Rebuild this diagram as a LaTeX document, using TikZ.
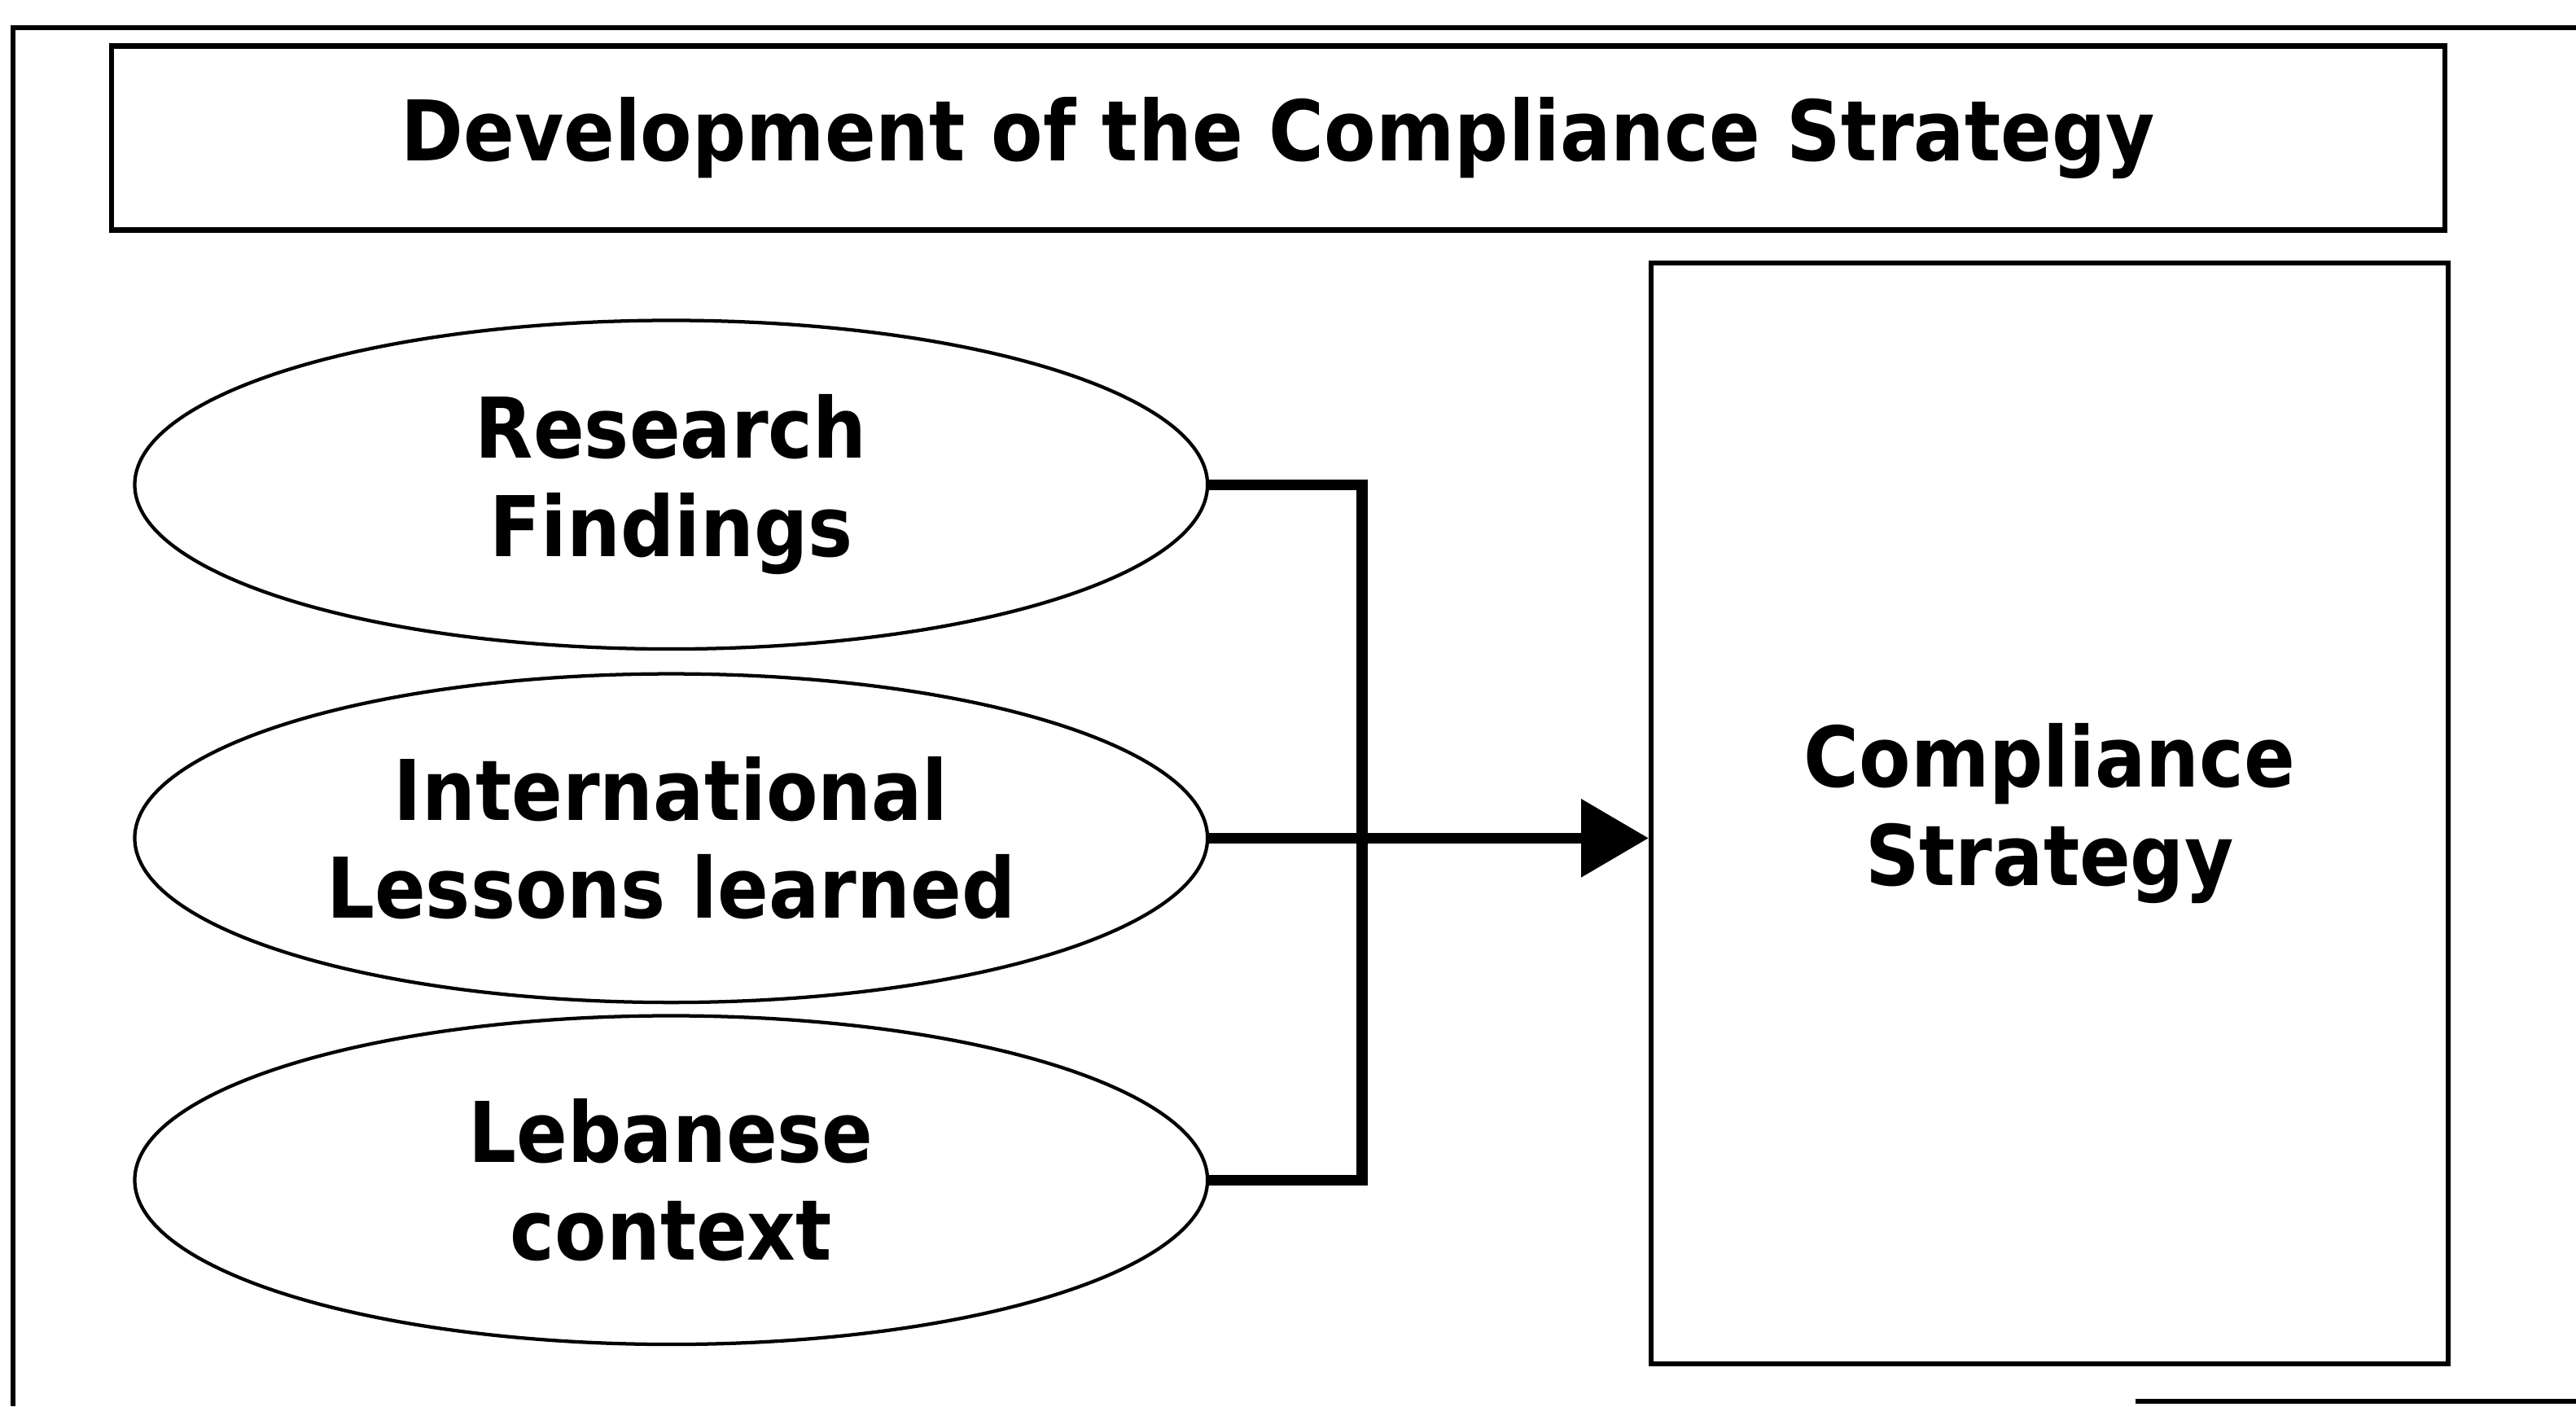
\documentclass[tikz,border=0pt]{standalone}
\usepackage{fontspec}
\newfontfamily\chartfont{DejaVu Sans Condensed}
\usetikzlibrary{arrows.meta,positioning,shapes.geometric}

\begin{document}
\begin{tikzpicture}[
frame/.style={line width=0.85pt},
box/.style={draw, line width=0.85pt, align=center},
source/.style={draw, ellipse, line width=0.6pt, minimum width=6.53cm, minimum height=2cm, inner sep=0pt, align=center},
link/.style={line width=1.9pt},
every node/.style={font=\chartfont\bfseries\fontsize{14.5}{17}\selectfont},
]
\useasboundingbox (0,0) rectangle (15.68,8.56);
\draw[frame] (15.68,8.39) -- (0.08,8.39) -- (0.08,0);
\draw[frame] (13.0,0.03) -- (15.68,0.03);

\node[box, minimum width=14.2cm, minimum height=1.12cm] (title) at (7.78,7.72) {Development of the Compliance Strategy};

\node[source] (research) at (4.085,5.61) {Research\\Findings};
\node[source, below=0.13cm of research] (lessons) {International\\Lessons learned};
\node[source, below=0.06cm of lessons] (context) {Lebanese\\context};

\node[box, minimum width=4.85cm, minimum height=6.7cm] (strategy) at (12.475,3.61) {Compliance\\Strategy};

\draw[link] (research.east) -- ++(0.93,0) |- (context.east);
\draw[link, -{Triangle[length=0.41cm, width=0.46cm]}] (lessons.east) -- (lessons.east -| strategy.west);

\end{tikzpicture}
\end{document}
